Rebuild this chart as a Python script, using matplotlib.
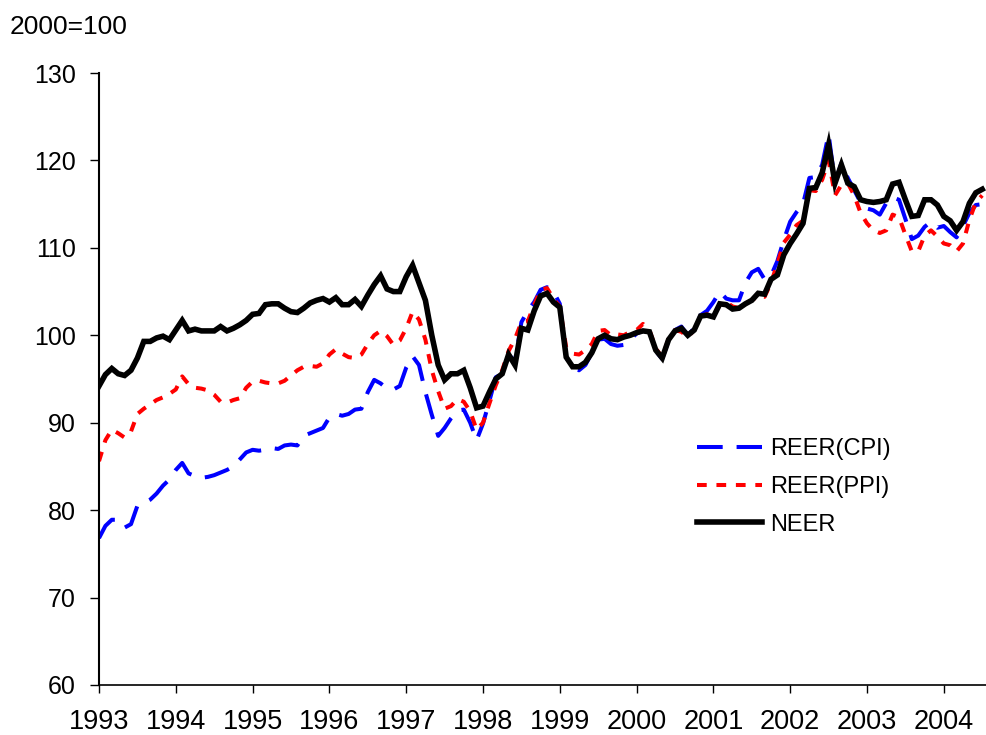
import numpy as np
import matplotlib
matplotlib.use("Agg")
import matplotlib.pyplot as plt

plt.rcParams['font.family'] = ['Liberation Sans', 'DejaVu Sans']
plt.rcParams['lines.scale_dashes'] = False

# monthly index, Jan 1993 - Jul 2004 (2000=100)
reer_cpi = [
    76.8, 78.2, 78.9, 78.9, 78.0, 78.4, 80.5, 80.8, 81.2, 81.9, 82.8, 83.5,
    84.6, 85.4, 84.2, 83.9, 83.7, 83.8, 84.0, 84.3, 84.6, 85.0, 85.8, 86.6,
    86.9, 86.8, 86.9, 87.1, 87.0, 87.4, 87.5, 87.4, 88.5, 88.8, 89.1, 89.4,
    90.6, 91.0, 90.8, 91.0, 91.5, 91.6, 93.5, 94.9, 94.5, 93.9, 93.8, 94.2,
    96.3, 97.6, 96.6, 93.5, 90.9, 88.5, 89.4, 90.5, 91.4, 91.5, 90.0, 88.0,
    89.9, 92.5, 95.2, 95.6, 97.8, 97.0, 101.5, 102.8, 103.8, 105.2, 105.5, 105.0,
    103.6, 97.5, 96.2, 96.0, 96.6, 98.0, 99.5, 99.6, 99.0, 98.8, 98.9, 99.5,
    100.2, 100.5, 100.4, 98.2, 97.3, 99.4, 100.6, 101.0, 100.0, 100.8, 102.3, 102.8,
    103.8, 105.0, 104.2, 104.0, 104.0, 106.0, 107.2, 107.6, 106.4, 106.8, 108.5, 110.9,
    113.0, 114.1, 115.0, 118.0, 118.1, 119.5, 123.0, 117.4, 119.7, 118.0, 116.6, 115.2,
    114.5, 114.3, 113.8, 115.1, 115.8, 115.5, 113.3, 111.0, 111.4, 112.4, 113.0, 112.3,
    112.5, 111.8, 111.2, 112.5, 114.0, 114.9, 115.0,
]
reer_ppi = [
    85.6, 88.0, 89.2, 88.8, 88.3, 89.0, 91.0, 91.6, 92.1, 92.6, 92.9, 93.3,
    93.8, 95.3, 94.4, 94.0, 93.9, 93.7, 93.2, 92.4, 92.3, 92.6, 92.8, 94.0,
    94.7, 94.8, 94.6, 94.5, 94.5, 94.8, 95.4, 96.0, 96.4, 96.5, 96.4, 96.8,
    97.8, 98.4, 97.9, 97.5, 97.4, 97.8, 99.0, 100.0, 100.5, 99.9, 98.9, 99.4,
    100.8, 102.7, 101.8, 99.5, 96.0, 93.6, 91.6, 91.9, 92.7, 92.4, 91.3, 89.2,
    90.0, 92.2, 94.3, 96.0, 98.2, 99.6, 101.5, 101.6, 103.5, 105.2, 105.4, 104.2,
    103.3, 98.6, 97.9, 97.8, 98.3, 99.0, 100.5, 100.6, 100.0, 100.1, 100.0, 100.4,
    100.6, 101.3, 100.6, 98.5, 97.5, 99.6, 100.6, 100.4, 99.8, 100.6, 102.2, 102.4,
    102.2, 103.5, 103.8, 103.3, 103.1, 103.6, 104.0, 104.5, 104.4, 106.0, 108.2, 110.6,
    111.5, 112.6, 113.1, 116.6, 116.5, 117.8, 120.0, 116.0, 117.2, 117.4, 116.0, 114.0,
    112.8, 112.0, 111.7, 112.0, 113.8, 113.5, 111.5, 109.6, 109.6, 111.4, 112.0, 111.3,
    110.5, 110.3, 109.6, 110.5, 113.2, 115.2, 116.0,
]
neer = [
    94.2, 95.5, 96.2, 95.6, 95.4, 96.0, 97.4, 99.3, 99.3, 99.7, 99.9, 99.5,
    100.6, 101.7, 100.5, 100.7, 100.5, 100.5, 100.5, 101.0, 100.5, 100.8, 101.2, 101.7,
    102.4, 102.5, 103.5, 103.6, 103.6, 103.1, 102.7, 102.6, 103.1, 103.7, 104.0, 104.2,
    103.8, 104.3, 103.5, 103.5, 104.1, 103.3, 104.6, 105.8, 106.8, 105.3, 105.0, 105.0,
    106.7, 108.0, 106.0, 104.0, 100.0, 96.6, 94.9, 95.6, 95.6, 96.0, 94.0, 91.7,
    91.9, 93.5, 95.0, 95.6, 97.8, 96.6, 100.8, 100.6, 102.8, 104.5, 104.8, 103.8,
    103.2, 97.5, 96.4, 96.4, 96.9, 98.0, 99.6, 100.0, 99.6, 99.5, 99.8, 100.0,
    100.3, 100.5, 100.4, 98.3, 97.4, 99.5, 100.5, 100.8, 100.0, 100.6, 102.2, 102.3,
    102.1, 103.6, 103.5, 103.0, 103.1, 103.6, 104.0, 104.8, 104.7, 106.4, 106.9, 109.2,
    110.5, 111.6, 112.8, 116.8, 116.9, 118.6, 121.8, 117.4, 119.5, 117.4, 117.0, 115.5,
    115.3, 115.2, 115.3, 115.5, 117.3, 117.5, 115.5, 113.6, 113.7, 115.5, 115.5, 114.9,
    113.6, 113.1, 112.0, 113.0, 115.1, 116.3, 116.7,
]
years = list(range(1993, 2005))

t = 1993 + np.arange(len(neer)) / 12.0

fig = plt.figure(figsize=(9.86, 7.35), dpi=100)
ax = fig.add_axes([99 / 986, 1 - 685 / 735, 887 / 986, (685 - 73) / 735])

ax.plot(t, reer_cpi, color='#0000ff', lw=2.9, dashes=(18.5, 10), label='REER(CPI)')
ax.plot(t, reer_ppi, color='#ff0000', lw=2.9, dashes=(7, 7), label='REER(PPI)')
ax.plot(t, neer, color='black', lw=4, solid_joinstyle='miter', label='NEER')

ax.set_xlim(1993, 1993 + 887 / 76.8)
ax.set_ylim(60, 130)
ax.set_yticks(range(60, 131, 10))
ax.set_xticks(years)
ax.set_xticklabels([str(y) for y in years])

for s in ['top', 'right']:
    ax.spines[s].set_visible(False)
ax.spines['left'].set_linewidth(1.5)
ax.spines['bottom'].set_linewidth(1.2)
ax.tick_params(axis='y', direction='out', length=6.5, width=1, pad=10, labelsize=18)
ax.tick_params(axis='x', direction='out', length=6, width=1, pad=11, labelsize=19.5)

ax.legend(loc='upper left', bbox_to_anchor=(697 / 986, 1 - 438 / 735),
          bbox_transform=fig.transFigure, frameon=False, fontsize=17,
          handlelength=2.75, handletextpad=0.34, labelspacing=0.67,
          borderpad=0, borderaxespad=0)

fig.text(10 / 986, 1 - 27 / 735, '2000=100', fontsize=19, va='center', ha='left')

fig.savefig('out.png', dpi=100)
